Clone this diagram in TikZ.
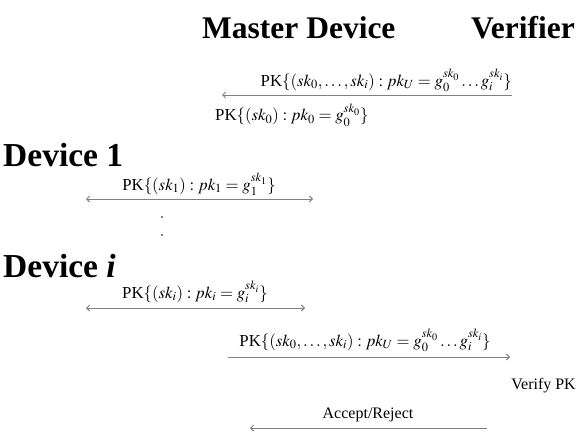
\documentclass[tikz,border=0pt]{standalone}
\usepackage{mathptmx}
\usepackage[no-math]{fontspec}
\setmainfont{Liberation Serif}
\usetikzlibrary{arrows.meta}
\tikzset{
  title/.style={font=\fontsize{31.5}{34}\selectfont\bfseries, inner sep=0pt, anchor=base west},
  devtitle/.style={font=\fontsize{33.5}{36}\selectfont\bfseries, inner sep=0pt, anchor=base west},
  lbl/.style={font=\fontsize{16.8}{20}\selectfont, inner sep=0pt, anchor=base},
  txt/.style={font=\fontsize{16}{19}\selectfont, inner sep=0pt, anchor=base},
  msg/.style={draw=gray, line width=0.9pt, -{Straight Barb[length=3pt,width=6pt]}},
  msgb/.style={draw=gray, line width=0.9pt, {Straight Barb[length=3pt,width=6pt]}-{Straight Barb[length=3pt,width=6pt]}},
  dotmark/.style={circle, fill=black, inner sep=0pt, minimum size=1.6pt}
}
\begin{document}
\begin{tikzpicture}[x=1pt,y=-1pt]
\useasboundingbox (0,0) rectangle (576,436);
\node[title] (master) at (202,39) {Master Device};
\node[title, anchor=base east] (verifier) at (575,39) {Verifier};
% master <- verifier
\coordinate (a1s) at (512,95);
\coordinate (a1e) at (222,95);
\draw[msg] (a1s) -- (a1e);
\node[lbl, anchor=base east] (l1) at (512,86) {PK$\{(sk_0,\ldots,sk_i) : pk_U = g_0^{sk_0}\ldots g_i^{sk_i}\}$};
\node[lbl, anchor=base west] (l2) at (215,121) {PK$\{(sk_0) : pk_0 = g_0^{sk_0}\}$};
% device 1
\node[devtitle] (dev1) at (3,166) {Device 1};
\coordinate (b1l) at (86,199);
\coordinate (b1r) at (313,199);
\draw[msgb] (b1l) -- (b1r);
\node[lbl] (l3) at (199,190) {PK$\{(sk_1) : pk_1 = g_1^{sk_1}\}$};
\node[dotmark] (dot1) at (162,217) {};
\node[dotmark] (dot2) at (162,235) {};
% device i
\node[devtitle] (devi) at (3,277) {Device \textit{i}};
\coordinate (bil) at (86,308);
\coordinate (bir) at (305,308);
\draw[msgb] (bil) -- (bir);
\node[lbl] (l4) at (195,298) {PK$\{(sk_i) : pk_i = g_i^{sk_i}\}$};
% master -> verifier
\coordinate (c1s) at (228,357);
\coordinate (c1e) at (510,357);
\draw[msg] (c1s) -- (c1e);
\node[lbl] (l5) at (365,346) {PK$\{(sk_0,\ldots,sk_i) : pk_U = g_0^{sk_0}\ldots g_i^{sk_i}\}$};
\node[txt, anchor=base east] (verify) at (576,389) {Verify PK};
% accept / reject
\coordinate (d1s) at (487,428);
\coordinate (d1e) at (250,428);
\draw[msg] (d1s) -- (d1e);
\node[txt] (l6) at (368,418) {Accept/Reject};
\end{tikzpicture}
\end{document}
